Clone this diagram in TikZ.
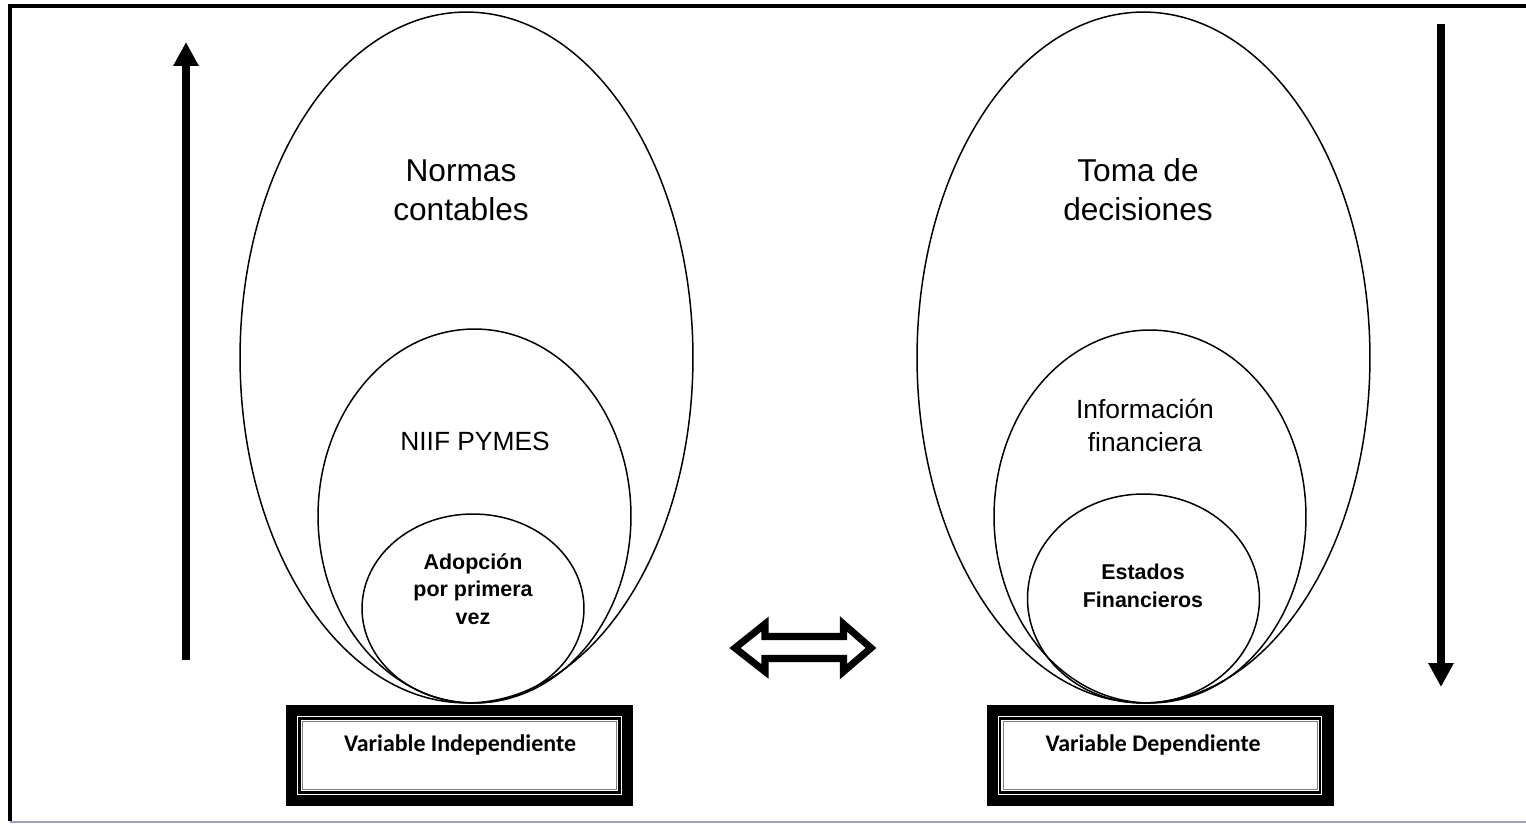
\documentclass[tikz,border=0pt]{standalone}
\usepackage{fontspec}
\setmainfont{Liberation Sans}
\newfontfamily\boxfont{Carlito}
\usetikzlibrary{shapes.geometric, arrows.meta, positioning}
\definecolor{pageline}{RGB}{140,168,210}
\tikzset{
    conjunto/.style={ % Sets the properties for each set (ellipse)
        ellipse,
        draw,
        line width=0.85pt,
        inner sep=0pt,
        outer sep=0pt
    },
    bigtxt/.style={align=center, font=\fontsize{18}{22}\selectfont},
    midtxt/.style={align=center, font=\fontsize{15}{18.8}\selectfont},
    smalltxt/.style={align=center, font=\bfseries\fontsize{12.2}{15.6}\selectfont},
    varbox/.style={ % Thick framed box under each variable
        rectangle,
        draw,
        line width=6.3pt,
        inner sep=0pt,
        outer sep=0pt,
        minimum width=6.72cm,
        minimum height=1.8cm
    },
    vartxt/.style={font=\boxfont\bfseries\fontsize{13.6}{16}\selectfont},
    flecha/.style={ % Thick vertical arrows
        line width=4.5pt,
        -{Triangle[width=0.48cm,length=0.48cm]}
    }
}

\begin{document}
\begin{tikzpicture}[x=0.02cm, y=-0.02cm] % one unit is one pixel
    \useasboundingbox (0,0) rectangle (1526,824);
    % page frame
    \draw[line width=2.3pt] (10,821) -- (10,6) -- (1526,6);
    \draw[pageline, line width=1.7pt] (10,822) -- (1526,822);

    % independent variable
    \node[conjunto, minimum width=9.06cm, minimum height=13.82cm] (normas) at (466.5,357.5) {};
    \node[conjunto, minimum width=6.26cm, minimum height=7.48cm] (niif) at (474.5,516) {};
    \node[conjunto, minimum width=4.44cm, minimum height=3.78cm] (adopcion) at (473,608.5) {};
    \node[bigtxt] (normastxt) at (461,190) {Normas\\contables};
    \node[midtxt] (niiftxt) at (475,441) {NIIF PYMES};
    \node[smalltxt] (adopciontxt) at (473,589) {Adopción\\por primera\\vez};

    % dependent variable
    \node[conjunto, minimum width=9.06cm, minimum height=13.82cm] (toma) at (1143.5,357.5) {};
    \node[conjunto, minimum width=6.24cm, minimum height=7.46cm] (info) at (1150,516.5) {};
    \node[conjunto, minimum width=4.64cm, minimum height=4.18cm] (estados) at (1143.5,598.5) {};
    \node[bigtxt] (tomatxt) at (1138,190) {Toma de\\decisiones};
    \node[midtxt] (infotxt) at (1145,425) {Información\\financiera};
    \node[smalltxt] (estadostxt) at (1143,586) {Estados\\Financieros};

    % boxes
    \node[varbox] (indep) at (459.5,755.5) {};
    \node[varbox] (dep) at (1160,755.5) {};
    \foreach \b in {indep, dep} {
        \draw[line width=1.2pt] ([shift={(8,8)}]\b.north west) rectangle ([shift={(-8,-8)}]\b.south east);
        \draw[gray, line width=0.5pt] ([shift={(11,11)}]\b.north west) rectangle ([shift={(-11,-11)}]\b.south east);
    }
    \node[vartxt] (indeptxt) at (460,745) {Variable Independiente};
    \node[vartxt] (deptxt) at (1153,745) {Variable Dependiente};

    % arrows
    \coordinate (subeini) at (186,660);
    \coordinate (subefin) at (186,42);
    \coordinate (bajaini) at (1441,24);
    \coordinate (bajafin) at (1441,687);
    \draw[flecha] (subeini) -- (subefin);
    \draw[flecha] (bajaini) -- (bajafin);
    \draw[line width=4pt, line join=miter] (735,648) -- (765,624) -- (765,636.5) -- (843.5,636.5)
        -- (843.5,624) -- (871,648) -- (843.5,671.5) -- (843.5,658.5) -- (765,658.5) -- (765,671.5) -- cycle;
\end{tikzpicture}
\end{document}
